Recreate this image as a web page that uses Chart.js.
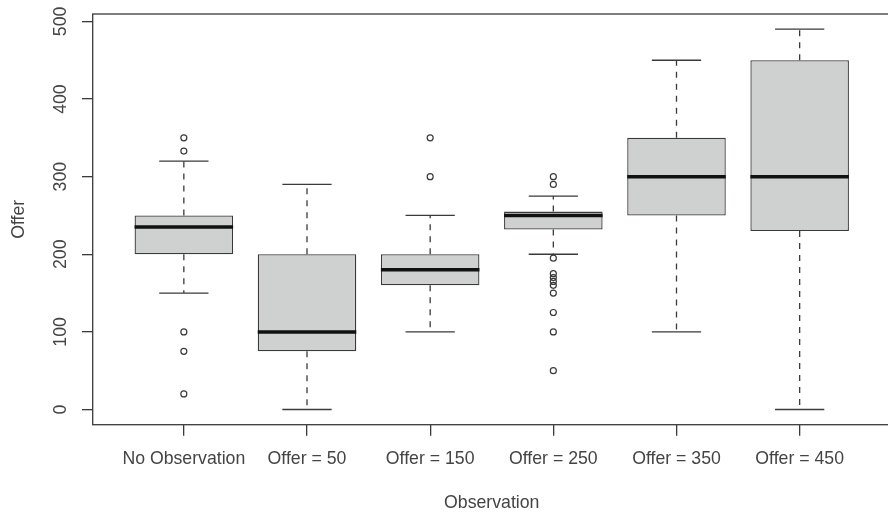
<!DOCTYPE html>
<html lang="en">
<head>
  <meta charset="UTF-8" />
  <title>Offer by Observation</title>
  <style>
    html, body { margin: 0; padding: 0; background: #ffffff; overflow: hidden; }
    .wrap { width: 888px; height: 514px; overflow: hidden; }
  </style>
</head>
<body>
  <div class="wrap"><canvas id="boxChart" width="896" height="514"></canvas></div>
  <script src="https://cdn.jsdelivr.net/npm/chart.js"></script>
  <script>
    // values
    const categories = ['No Observation', 'Offer = 50', 'Offer = 150', 'Offer = 250', 'Offer = 350', 'Offer = 450'];
    const lowerWhisker = [150, 0, 100, 200, 100, 0];
    const q1 = [200, 75, 160, 232, 250, 230];
    const median = [235, 100, 180, 250, 300, 300];
    const q3 = [250, 200, 200, 255, 350, 450];
    const upperWhisker = [320, 290, 250, 275, 450, 490];
    const outliers = [
      [20, 75, 100, 333, 350],
      [],
      [300, 350],
      [50, 100, 125, 150, 160, 165, 170, 175, 195, 290, 300],
      [],
      []
    ];
    const yTicks = [0, 100, 200, 300, 400, 500];

    const textColor = '#444';
    const lineColor = '#3a3a3a';
    const font = { family: "'Liberation Sans', Arial, sans-serif", size: 17.7 };

    const boxData = categories.map((c, i) => ({ x: i + 1, y: [q1[i], q3[i]] }));
    const outlierData = [];
    outliers.forEach((list, i) => list.forEach(v => outlierData.push({ x: i + 1, y: v })));

    function noPadding(scale) {
      scale.paddingTop = 0;
      scale.paddingBottom = 0;
      scale.paddingLeft = 0;
      scale.paddingRight = 0;
    }

    // whiskers, caps, medians and the frame, placed with the chart's scales
    const boxExtras = {
      id: 'boxExtras',
      afterDatasetsDraw(chart) {
        const ctx = chart.ctx;
        const xs = chart.scales.x;
        const ys = chart.scales.y;
        ctx.save();
        categories.forEach((c, i) => {
          const cx = xs.getPixelForValue(i + 1);
          const hb = xs.getPixelForValue(i + 1.4) - cx;
          const hc = xs.getPixelForValue(i + 1.2) - cx;
          ctx.strokeStyle = lineColor;
          ctx.lineWidth = 1.3;
          ctx.setLineDash([6, 6]);
          ctx.beginPath();
          ctx.moveTo(cx, ys.getPixelForValue(q3[i]));
          ctx.lineTo(cx, ys.getPixelForValue(upperWhisker[i]));
          ctx.moveTo(cx, ys.getPixelForValue(q1[i]));
          ctx.lineTo(cx, ys.getPixelForValue(lowerWhisker[i]));
          ctx.stroke();
          ctx.setLineDash([]);
          ctx.beginPath();
          ctx.moveTo(cx - hc, ys.getPixelForValue(upperWhisker[i]));
          ctx.lineTo(cx + hc, ys.getPixelForValue(upperWhisker[i]));
          ctx.moveTo(cx - hc, ys.getPixelForValue(lowerWhisker[i]));
          ctx.lineTo(cx + hc, ys.getPixelForValue(lowerWhisker[i]));
          ctx.stroke();
          ctx.strokeStyle = '#111';
          ctx.lineWidth = 3.5;
          ctx.beginPath();
          ctx.moveTo(cx - hb, ys.getPixelForValue(median[i]));
          ctx.lineTo(cx + hb, ys.getPixelForValue(median[i]));
          ctx.stroke();
        });
        const a = chart.chartArea;
        ctx.strokeStyle = lineColor;
        ctx.lineWidth = 1.3;
        ctx.strokeRect(a.left, a.top, a.right - a.left, a.bottom - a.top);
        ctx.restore();
      }
    };

    const chart = new Chart(document.getElementById('boxChart').getContext('2d'), {
      type: 'bar',
      data: {
        datasets: [{
          type: 'bar',
          data: boxData,
          backgroundColor: '#cfd0d0',
          borderColor: lineColor,
          borderWidth: 1.3,
          borderSkipped: false,
          barPercentage: 0.8,
          categoryPercentage: 1
        }, {
          type: 'scatter',
          data: outlierData,
          pointStyle: 'circle',
          radius: 3,
          borderWidth: 1.2,
          borderColor: lineColor,
          backgroundColor: 'rgba(0,0,0,0)'
        }]
      },
      options: {
        responsive: false,
        animation: false,
        layout: { padding: { top: 14, right: 0, bottom: 0, left: 0 } },
        plugins: {
          legend: { display: false },
          tooltip: { enabled: false }
        },
        scales: {
          x: {
            type: 'linear',
            min: 0.26,
            max: 6.74,
            offset: false,
            afterFit(scale) { scale.height = 89.3; noPadding(scale); },
            afterBuildTicks(scale) { scale.ticks = categories.map((c, i) => ({ value: i + 1 })); },
            grid: { offset: false, drawOnChartArea: false, drawTicks: true, tickLength: 11, color: lineColor, lineWidth: 1.3 },
            border: { display: false },
            ticks: {
              color: textColor,
              font: font,
              padding: 13,
              maxRotation: 0,
              autoSkip: false,
              callback: (v) => categories[v - 1]
            },
            title: { display: true, text: 'Observation', color: textColor, font: font, padding: { top: 0, bottom: 0 } }
          },
          y: {
            min: -19.6,
            max: 509.6,
            afterFit(scale) { scale.width = 92.7; noPadding(scale); },
            afterBuildTicks(scale) { scale.ticks = yTicks.map(v => ({ value: v })); },
            grid: { drawOnChartArea: false, drawTicks: true, tickLength: 10.7, color: lineColor, lineWidth: 1.3 },
            border: { display: false },
            ticks: {
              color: textColor,
              font: font,
              padding: 6,
              minRotation: 90,
              maxRotation: 90,
              crossAlign: 'center'
            },
            title: { display: true, text: 'Offer', color: textColor, font: font, padding: { top: 8, bottom: 0 } }
          }
        }
      },
      plugins: [boxExtras]
    });
  </script>
</body>
</html>
